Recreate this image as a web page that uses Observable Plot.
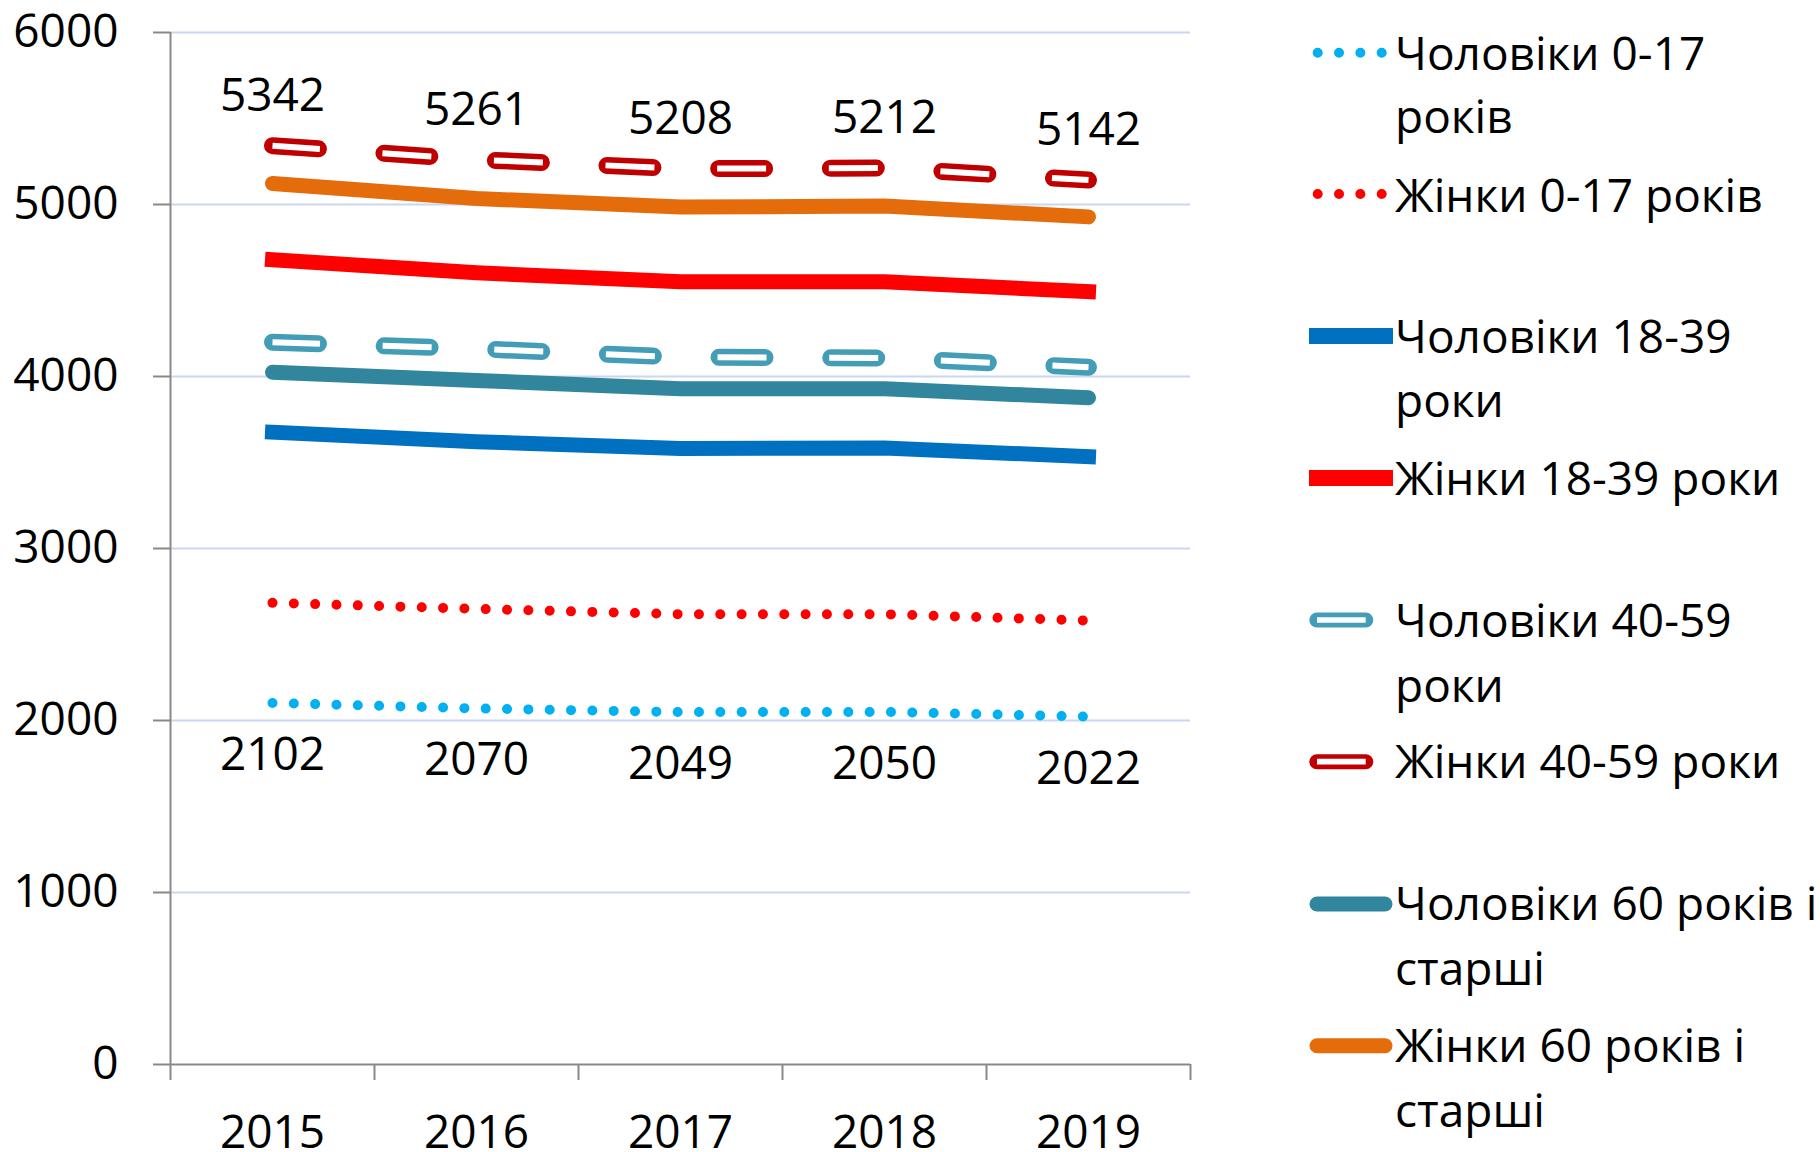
<!DOCTYPE html>
<html>
<head>
<meta charset="utf-8">
<script src="https://cdn.jsdelivr.net/npm/d3@7"></script>
<script src="https://cdn.jsdelivr.net/npm/@observablehq/plot@0.6"></script>
<style>
  body { margin: 0; background: #ffffff; font-family: 'Open Sans', sans-serif; }
  #wrap { display: flex; width: 1820px; height: 1152px; overflow: hidden; }
  #legend { position: relative; width: 580px; height: 1152px; }
</style>
</head>
<body>
<div id="wrap"><div id="chart"></div><div id="legend"></div></div>
<script>
// ---- data ----
const years = [2015, 2016, 2017, 2018, 2019];
const men0_17    = [2102, 2070, 2049, 2050, 2022];
const women0_17  = [2684, 2649, 2618, 2618, 2581];
const men18_39   = [3676, 3621, 3582, 3584, 3534];
const women18_39 = [4679, 4603, 4551, 4551, 4493];
const men40_59   = [4199, 4161, 4112, 4108, 4054];
const women40_59 = [5342, 5261, 5208, 5212, 5142];
const men60      = [4025, 3977, 3929, 3929, 3876];
const women60    = [5122, 5035, 4985, 4991, 4928];
const seriesNames = [
  "Чоловіки 0-17 років", "Жінки 0-17 років",
  "Чоловіки 18-39 роки", "Жінки 18-39 роки",
  "Чоловіки 40-59 роки", "Жінки 40-59 роки",
  "Чоловіки 60 років і старші", "Жінки 60 років і старші"
];
const legendLines = [
  ["Чоловіки 0-17", "років"], ["Жінки 0-17 років"],
  ["Чоловіки 18-39", "роки"], ["Жінки 18-39 роки"],
  ["Чоловіки 40-59", "роки"], ["Жінки 40-59 роки"],
  ["Чоловіки 60 років і", "старші"], ["Жінки 60 років і", "старші"]
];
const yTicks = [0, 1000, 2000, 3000, 4000, 5000, 6000];
const xBoundaries = [2014.5, 2015.5, 2016.5, 2017.5, 2018.5, 2019.5];

// ---- styles ----
const seriesValues = [men0_17, women0_17, men18_39, women18_39, men40_59, women40_59, men60, women60];
const seriesStyle = [
  {kind: "dot", color: "#00B0F0"},
  {kind: "dot", color: "#FF0000"},
  {kind: "square", color: "#0070C0"},
  {kind: "square", color: "#FF0000"},
  {kind: "hollow", color: "#449DB6"},
  {kind: "hollow", color: "#C00000"},
  {kind: "round", color: "#31859C"},
  {kind: "round", color: "#E46C0A"}
];
const series = seriesNames.map((name, i) => ({
  name,
  rows: years.map((year, j) => ({year, value: seriesValues[i][j]})),
  ...seriesStyle[i]
}));

const FONT = "'Open Sans', sans-serif";
const FS = 46;

function lineMarks(s) {
  const o = {x: "year", y: "value"};
  if (s.kind === "dot") {
    return [Plot.line(s.rows, {...o, stroke: s.color, strokeWidth: 10, strokeDasharray: "0,21.33", strokeLinecap: "round"})];
  }
  if (s.kind === "square") {
    return [Plot.line(s.rows, {...o, stroke: s.color, strokeWidth: 15, strokeLinecap: "square", strokeLinejoin: "round"})];
  }
  if (s.kind === "round") {
    return [Plot.line(s.rows, {...o, stroke: s.color, strokeWidth: 15, strokeLinecap: "round", strokeLinejoin: "round"})];
  }
  // hollow dashes
  return [
    Plot.line(s.rows, {...o, stroke: s.color, strokeWidth: 17, strokeDasharray: "46,65.7", strokeLinecap: "round"}),
    Plot.line(s.rows, {...o, stroke: "#ffffff", strokeWidth: 6, strokeDasharray: "49,62.7", strokeDashoffset: 1.5, strokeLinecap: "butt"})
  ];
}

const topLabels = series[5].rows;
const bottomLabels = series[0].rows;

const chart = Plot.plot({
  width: 1240,
  height: 1152,
  marginLeft: 170,
  marginRight: 50,
  marginTop: 32,
  marginBottom: 88,
  style: {fontFamily: FONT, fontSize: FS + "px", color: "#000", background: "#fff"},
  x: {type: "linear", domain: [2014.5, 2019.5]},
  y: {domain: [0, 6000]},
  marks: [
    Plot.ruleY(yTicks.filter(d => d > 0), {stroke: "#CAD7EE", strokeWidth: 2}),
    Plot.ruleX([2014.5], {stroke: "#898989", strokeWidth: 2}),
    Plot.ruleY([0], {stroke: "#898989", strokeWidth: 2}),
    Plot.axisY({ticks: yTicks, tickSize: 17, tickPadding: 35, tickFormat: d => String(d), label: null,
      stroke: "#898989", strokeWidth: 2, fill: "#000", fontSize: FS}),
    Plot.axisX({ticks: xBoundaries, tickSize: 16, tickFormat: () => "", label: null,
      stroke: "#898989", strokeWidth: 2}),
    Plot.axisX({ticks: years, tickSize: 0, tickPadding: 51, tickFormat: d => String(d), label: null,
      fill: "#000", fontSize: FS}),
    ...series.flatMap(lineMarks),
    Plot.text(topLabels, {x: "year", y: "value", text: d => String(d.value), dy: -35, lineAnchor: "bottom", fontSize: FS, fill: "#000"}),
    Plot.text(bottomLabels, {x: "year", y: "value", text: d => String(d.value), dy: 67, lineAnchor: "bottom", fontSize: FS, fill: "#000"})
  ]
});
document.getElementById("chart").appendChild(chart);

// ---- legend (to the right of the chart) ----
const legendPos = [
  {sw: 52.7, base: [70, 133]},
  {sw: 194, base: [211.7]},
  {sw: 336, base: [353, 417]},
  {sw: 478, base: [495]},
  {sw: 620, base: [637.3, 701.7]},
  {sw: 761.7, base: [777.7]},
  {sw: 904, base: [920, 985]},
  {sw: 1045.7, base: [1061.7, 1126.7]}
];
const leg = d3.select("#legend").append("svg").attr("width", 580).attr("height", 1152)
  .style("font-family", FONT).style("font-size", FS + "px");
series.forEach((s, i) => {
  const p = legendPos[i];
  const g = leg.append("g");
  const line = (x1, x2, attrs) => {
    const l = g.append("line").attr("x1", x1).attr("x2", x2).attr("y1", p.sw).attr("y2", p.sw);
    Object.entries(attrs).forEach(([k, v]) => l.attr(k, v));
  };
  if (s.kind === "dot") {
    line(77.7, 141.7, {stroke: s.color, "stroke-width": 10, "stroke-dasharray": "0,21.33", "stroke-linecap": "round"});
  } else if (s.kind === "square") {
    line(69, 153, {stroke: s.color, "stroke-width": 16, "stroke-linecap": "butt"});
  } else if (s.kind === "round") {
    line(77, 145, {stroke: s.color, "stroke-width": 15, "stroke-linecap": "round"});
  } else {
    line(76.8, 125.8, {stroke: s.color, "stroke-width": 15, "stroke-linecap": "round"});
    line(77, 125.7, {stroke: "#ffffff", "stroke-width": 5.7, "stroke-linecap": "butt"});
  }
  legendLines[i].forEach((t, k) => {
    g.append("text").attr("x", 155).attr("y", p.base[k]).attr("fill", "#000").text(t);
  });
});
</script>
</body>
</html>
